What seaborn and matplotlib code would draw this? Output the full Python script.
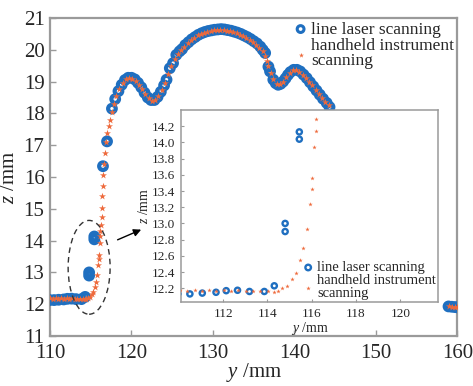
import matplotlib
matplotlib.use("Agg")
import matplotlib.pyplot as plt
from matplotlib.patches import Ellipse
import seaborn as sns
import pandas as pd

# ---------------- data ----------------
laser_y = [109.95, 110.5, 111.06, 111.68, 112.14, 112.65, 113.19, 113.86, 114.31,
           114.8, 114.8, 115.44, 115.44, 116.5, 117.0,
           117.6, 118.0, 118.4, 118.8, 119.2, 119.6, 120.0, 120.4, 120.8, 121.2,
           121.6, 122.0, 122.4, 122.8, 123.2, 123.6, 124.0, 124.3, 124.7, 125.1,
           125.5, 125.9, 126.2, 126.6, 127.0, 127.4, 127.8, 128.2, 128.6, 129.0,
           129.4, 129.8, 130.2, 130.6, 131.0, 131.4, 131.8, 132.2, 132.6, 133.0,
           133.4, 133.8, 134.2, 134.6, 135.0, 135.4, 135.8, 136.1, 136.4, 136.8,
           137.0, 137.4, 137.7, 138.0, 138.3, 138.6, 138.9, 139.2, 139.5, 139.9,
           140.3, 140.7, 141.1, 141.5, 141.9, 142.3, 142.7, 143.1, 143.5, 143.95,
           144.3, 158.9, 159.3, 159.7, 160.0]
laser_z = [12.13, 12.13, 12.14, 12.15, 12.17, 12.175, 12.16, 12.16, 12.23,
           13.0, 12.9, 14.13, 14.04, 16.34, 17.12,
           18.15, 18.45, 18.7, 18.9, 19.05, 19.12, 19.12, 19.07, 18.96, 18.82,
           18.65, 18.5, 18.42, 18.42, 18.52, 18.68, 18.88, 19.06, 19.42, 19.58,
           19.84, 19.95, 20.02, 20.15, 20.24, 20.33, 20.4, 20.47, 20.52, 20.56,
           20.59, 20.61, 20.63, 20.64, 20.65, 20.64, 20.62, 20.6, 20.57, 20.54,
           20.5, 20.45, 20.4, 20.34, 20.27, 20.2, 20.1, 20.0, 19.9, 19.47,
           19.32, 19.06, 18.95, 18.9, 18.93, 19.0, 19.1, 19.21, 19.3, 19.37,
           19.37, 19.32, 19.22, 19.11, 18.98, 18.85, 18.72, 18.59, 18.46, 18.33,
           18.2, 11.93, 11.92, 11.91, 11.9]

hand_y = [110.05, 110.38, 110.71, 111.04, 111.37, 111.7, 112.03, 112.36, 112.69,
          113.02, 113.35, 113.68, 114.01, 114.3,
          114.47, 114.68, 114.88, 115.1, 115.29, 115.48, 115.6, 115.79, 115.9,
          116.0, 116.03, 116.09, 116.18, 116.19,
          116.3, 116.35, 116.4, 116.42, 116.5, 116.55, 116.65, 116.75, 116.9,
          117.05, 117.2, 117.36, 117.55, 117.8, 118.1, 118.5, 118.9, 119.3,
          119.7, 120.1, 120.5, 120.9, 121.3, 121.7, 122.1, 122.5, 122.9, 123.3,
          123.7, 124.1, 124.5, 124.9, 125.3, 125.7, 126.1, 126.5, 126.9, 127.3,
          127.7, 128.1, 128.5, 128.9, 129.3, 129.7, 130.1, 130.5, 130.9, 131.3,
          131.7, 132.1, 132.5, 132.9, 133.3, 133.7, 134.1, 134.5, 134.9, 135.3,
          135.7, 136.1, 136.4, 136.6, 136.8, 137.1, 137.4, 137.8, 138.2, 138.6,
          139.0, 139.4, 139.8, 140.2, 140.6, 141.0, 141.4, 141.8, 142.2, 142.6,
          143.0, 143.4, 143.8, 144.2, 158.9, 159.3, 159.7, 160.0]
hand_z = [12.18, 12.17, 12.18, 12.17, 12.18, 12.17, 12.18, 12.17, 12.18,
          12.17, 12.17, 12.17, 12.16, 12.15,
          12.17, 12.2, 12.23, 12.31, 12.39, 12.55, 12.7, 12.93, 13.24,
          13.42, 13.56, 13.94, 14.14, 14.29,
          14.5, 14.75, 15.03, 15.4, 15.71, 16.05, 16.4, 16.76, 17.1,
          17.39, 17.6, 17.8, 18.05, 18.3, 18.55, 18.78, 18.95, 19.07,
          19.1, 19.09, 19.02, 18.9, 18.77, 18.6, 18.47, 18.4, 18.42, 18.55,
          18.74, 18.95, 19.25, 19.5, 19.72, 19.88, 19.99, 20.1, 20.21, 20.3,
          20.38, 20.45, 20.5, 20.54, 20.57, 20.59, 20.61, 20.62, 20.62, 20.61,
          20.6, 20.58, 20.55, 20.52, 20.48, 20.43, 20.37, 20.31, 20.24, 20.16,
          20.07, 19.95, 19.82, 19.65, 19.5, 19.28, 19.08, 18.93, 18.92, 19.0,
          19.13, 19.26, 19.35, 19.36, 19.31, 19.22, 19.12, 19.0, 18.88, 18.75,
          18.62, 18.49, 18.37, 18.25, 11.93, 11.92, 11.91, 11.9]

labels = ["line laser scanning", "handheld instrument\nscanning"]
main_xticks = [110, 120, 130, 140, 150, 160]
main_yticks = [11, 12, 13, 14, 15, 16, 17, 18, 19, 20, 21]
inset_xticks = [112, 114, 116, 118, 120]
inset_yticks = [12.2, 12.4, 12.6, 12.8, 13.0, 13.2, 13.4, 13.6, 13.8, 14.0, 14.2]

laser = pd.DataFrame({"y": laser_y, "z": laser_z})
hand = pd.DataFrame({"y": hand_y, "z": hand_z})

# ---------------- style ----------------
sns.set_style("ticks")
plt.rcParams["font.family"] = ["Liberation Serif", "DejaVu Serif"]
plt.rcParams["mathtext.fontset"] = "custom"
plt.rcParams["mathtext.it"] = "Liberation Serif:italic"
plt.rcParams["mathtext.rm"] = "Liberation Serif"
plt.rcParams["xtick.direction"] = "in"
plt.rcParams["ytick.direction"] = "in"

BLUE = "#1f6fc0"
ORANGE = "#ee6a3c"
SPINE = "#9a9a9a"

fig = plt.figure(figsize=(4.73, 3.86), dpi=100)
ax = fig.add_axes([0.1057, 0.1295, 0.8615, 0.8239])

sns.scatterplot(data=laser, x="y", y="z", ax=ax, marker="o", s=30,
                color=BLUE, facecolor="none", edgecolor=BLUE, linewidth=3.0,
                label=labels[0], zorder=3)
sns.scatterplot(data=hand, x="y", y="z", ax=ax, marker="*", s=28,
                color=ORANGE, edgecolor=ORANGE, linewidth=0,
                label=labels[1], zorder=4)

ax.set_xlim(110, 160)
ax.set_ylim(11, 21)
ax.set_xticks(main_xticks)
ax.set_yticks(main_yticks)
ax.tick_params(labelsize=15, length=4, width=1, color=SPINE)
ax.tick_params(axis="x", pad=6)
ax.tick_params(axis="y", pad=4)
for sp in ax.spines.values():
    sp.set_color(SPINE)
    sp.set_linewidth(1.6)
ax.set_xlabel("$y$ /mm", fontsize=15, labelpad=-2)
ax.set_ylabel("$z$ /mm", fontsize=15, labelpad=3)

leg = ax.legend(loc="upper right", bbox_to_anchor=(1.0, 1.0), frameon=False,
                fontsize=12.5, borderaxespad=0.1, borderpad=0.1,
                handletextpad=0.2, handlelength=0.8, labelspacing=0.0)
for t in leg.get_texts():
    t.set_linespacing(0.95)
hs = leg.legend_handles
hs[0].set_sizes([24]); hs[0].set_linewidths([2.2])
hs[1].set_sizes([14])

ax.add_patch(Ellipse((114.8, 13.16), width=5.15, height=2.95, fill=False,
                     ls=(0, (4, 3)), ec="#333333", lw=1.0, zorder=5))
ax.annotate("", xy=(121.5, 14.38), xytext=(117.98, 13.99),
            arrowprops=dict(arrowstyle="-|>", color="black", lw=1.0,
                            mutation_scale=11), zorder=6)

# ---------------- inset ----------------
axi = fig.add_axes([0.3827, 0.2176, 0.5433, 0.4974])
axi.set_facecolor("white")
sns.scatterplot(data=laser, x="y", y="z", ax=axi, marker="o", s=14,
                color=BLUE, facecolor="none", edgecolor=BLUE, linewidth=1.7,
                label=labels[0], zorder=3)
sns.scatterplot(data=hand, x="y", y="z", ax=axi, marker="*", s=11,
                color=ORANGE, edgecolor=ORANGE, linewidth=0,
                label=labels[1], zorder=4)
axi.set_xlim(110.1, 121.7)
axi.set_ylim(12.03, 14.4)
axi.set_xticks(inset_xticks)
axi.set_yticks(inset_yticks)
axi.set_yticklabels([f"{v:.1f}" for v in inset_yticks])
axi.tick_params(labelsize=9.5, length=2.5, width=0.8, color=SPINE, pad=4)
for sp in axi.spines.values():
    sp.set_color(SPINE)
    sp.set_linewidth(1.1)
axi.set_xlabel("$y$ /mm", fontsize=10, labelpad=0)
axi.set_ylabel("$z$ /mm", fontsize=10, labelpad=1)
legi = axi.legend(loc="lower right", frameon=False, fontsize=10.5,
                  borderaxespad=0.05, borderpad=0.1, handletextpad=0.2,
                  handlelength=0.8, labelspacing=0.0)
for t in legi.get_texts():
    t.set_linespacing(0.95)
hi = legi.legend_handles
hi[0].set_sizes([16]); hi[0].set_linewidths([1.7])
hi[1].set_sizes([11])

fig.savefig("out.png", dpi=100)
